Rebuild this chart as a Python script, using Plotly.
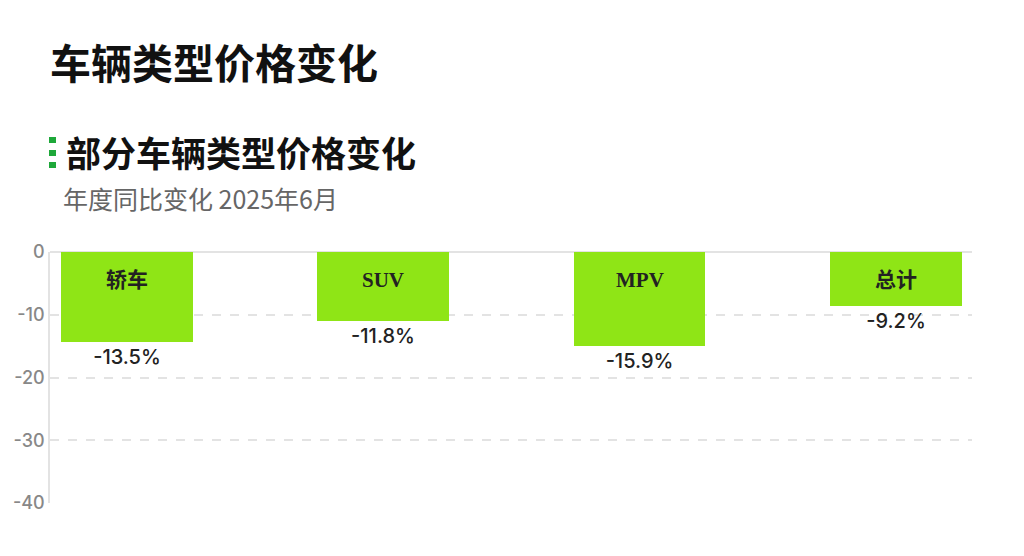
import plotly.graph_objects as go

# --- 数据 ---
categories = ["轿车", "SUV", "MPV", "总计"]
bar_values = [-14.3, -11.0, -15.0, -8.6]
value_labels = ["-13.5%", "-11.8%", "-15.9%", "-9.2%"]
y_ticks = [0, -10, -20, -30, -40]

TITLE = "车辆类型价格变化"
SUBTITLE = "部分车辆类型价格变化"
NOTE = "年度同比变化 2025年6月"

BAR_COLOR = "#8fe516"
CJK = "Noto Sans CJK SC"

W, H = 1024, 556
OFF = 8  # 页面 body 默认边距
ML, MR, MT, MB = 42, 60, 244, 61
plot_w = W - ML - MR
plot_h = H - MT - MB


def px_x(sx):
    # 屏幕像素 -> paper 坐标
    return (sx - OFF - ML) / plot_w


def px_y(sy):
    return (H - (sy - OFF) - MB) / plot_h


fig = go.Figure()
fig.add_trace(go.Bar(
    x=categories,
    y=bar_values,
    width=0.513,
    marker=dict(color=BAR_COLOR, line=dict(width=0)),
    text=value_labels,
    textposition="outside",
    textfont=dict(family="Inter, " + CJK, size=20, color="#222", weight=500),
    cliponaxis=False,
    hoverinfo="skip",
))

# 柱内类别名
for cat in categories:
    fig.add_annotation(
        x=cat, y=0, xref="x", yref="y",
        text=f"<b>{cat}</b>", showarrow=False,
        yanchor="middle", yshift=-28,
        font=dict(family="Liberation Serif, " + CJK, size=21, color="#222"),
    )

# 标题
fig.add_annotation(
    x=px_x(48), y=px_y(61), xref="paper", yref="paper", text=f"<b>{TITLE}</b>",
    showarrow=False, xanchor="left", yanchor="middle",
    font=dict(family=CJK, size=41, color="#111"),
)
fig.add_annotation(
    x=px_x(64), y=px_y(152), xref="paper", yref="paper", text=f"<b>{SUBTITLE}</b>",
    showarrow=False, xanchor="left", yanchor="middle",
    font=dict(family=CJK, size=35, color="#111"),
)
fig.add_annotation(
    x=px_x(61), y=px_y(198), xref="paper", yref="paper", text=NOTE,
    showarrow=False, xanchor="left", yanchor="middle",
    font=dict(family=CJK, size=25, color="#666"),
)

# 绿色小方块标记
for top in [137, 150, 162]:
    fig.add_shape(
        type="rect", xref="paper", yref="paper",
        x0=px_x(49), x1=px_x(56),
        y0=px_y(top + 6), y1=px_y(top),
        fillcolor="#1ea83a", line=dict(width=0),
    )

fig.update_layout(
    width=W, height=H,
    margin=dict(l=ML, r=MR, t=MT, b=MB, autoexpand=False),
    paper_bgcolor="white", plot_bgcolor="white",
    showlegend=False,
    bargap=0,
    xaxis=dict(
        range=[-0.3, 3.297], showticklabels=False, showgrid=False,
        zeroline=False, showline=False, ticks="", fixedrange=True,
        automargin=False,
    ),
    yaxis=dict(
        range=[-40, 0], tickvals=y_ticks, ticktext=[str(v) for v in y_ticks],
        showgrid=True, gridcolor="#e3e3e3", gridwidth=1.5, griddash="dash",
        zeroline=True, zerolinecolor="#e3e3e3", zerolinewidth=1.5,
        showline=True, linecolor="#e3e3e3", linewidth=1.5,
        tickfont=dict(family="Inter, Noto Sans", size=18, color="#888", weight=500),
        ticks="", ticklabelstandoff=0, fixedrange=True, automargin=False,
    ),
)

fig.write_html("out.html")
